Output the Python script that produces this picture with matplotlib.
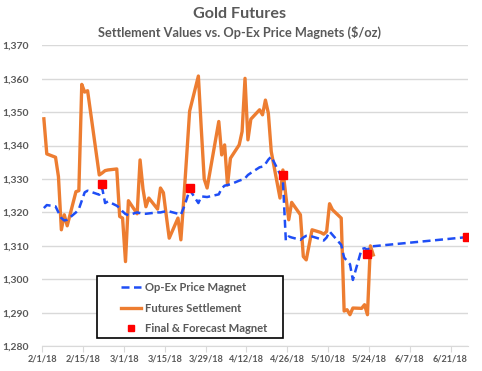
import matplotlib
matplotlib.use("Agg")
import matplotlib.pyplot as plt
import pandas as pd
from matplotlib.lines import Line2D
from matplotlib.patches import Rectangle
from matplotlib.ticker import FuncFormatter, MultipleLocator

plt.rcParams["font.family"] = ["Lato", "DejaVu Sans"]

# futures settlement, business days 2/1/18 .. 5/25/18
settle_dates = [
    "2018-02-01", "2018-02-02", "2018-02-05", "2018-02-06", "2018-02-07", "2018-02-08", "2018-02-09",
    "2018-02-12", "2018-02-13", "2018-02-14", "2018-02-15", "2018-02-16",
    "2018-02-20", "2018-02-21", "2018-02-22", "2018-02-23",
    "2018-02-26", "2018-02-27", "2018-02-28", "2018-03-01", "2018-03-02",
    "2018-03-05", "2018-03-06", "2018-03-07", "2018-03-08", "2018-03-09",
    "2018-03-12", "2018-03-13", "2018-03-14", "2018-03-15", "2018-03-16",
    "2018-03-19", "2018-03-20", "2018-03-21", "2018-03-22", "2018-03-23",
    "2018-03-26", "2018-03-27", "2018-03-28", "2018-03-29",
    "2018-04-02", "2018-04-03", "2018-04-04", "2018-04-05", "2018-04-06",
    "2018-04-09", "2018-04-10", "2018-04-11", "2018-04-12", "2018-04-13",
    "2018-04-16", "2018-04-17", "2018-04-18", "2018-04-19", "2018-04-20",
    "2018-04-23", "2018-04-24", "2018-04-25", "2018-04-26", "2018-04-27",
    "2018-04-30", "2018-05-01", "2018-05-02", "2018-05-03", "2018-05-04",
    "2018-05-07", "2018-05-08", "2018-05-09", "2018-05-10", "2018-05-11",
    "2018-05-14", "2018-05-15", "2018-05-16", "2018-05-17", "2018-05-18",
    "2018-05-21", "2018-05-22", "2018-05-23", "2018-05-24", "2018-05-25",
]
settle = [
    1348.0, 1337.5, 1336.5, 1330.7, 1314.8, 1319.3, 1316.0,
    1326.2, 1326.5, 1358.3, 1356.0, 1356.4,
    1331.2, 1331.8, 1332.5, 1332.7,
    1333.0, 1318.8, 1318.3, 1305.3, 1323.5,
    1319.6, 1335.7, 1327.0, 1321.7, 1324.3,
    1321.0, 1327.3, 1325.9, 1319.0, 1312.3,
    1318.3, 1311.8, 1324.0, 1337.0, 1350.3,
    1360.8, 1345.0, 1330.0, 1327.3,
    1347.2, 1337.2, 1340.2, 1328.2, 1336.2,
    1340.2, 1344.2, 1360.1, 1341.7, 1347.9,
    1350.7, 1349.2, 1353.6, 1349.7, 1338.2,
    1324.3, 1332.7, 1325.0, 1317.8, 1323.0,
    1319.3, 1306.8, 1305.8, 1310.3, 1314.8,
    1314.0, 1313.5, 1314.3, 1322.6, 1320.8,
    1318.3, 1290.5, 1290.9, 1289.4, 1291.4,
    1291.3, 1292.4, 1289.4, 1310.0, 1307.3,
]

# op-ex price magnet, business days to 5/24/18 then the forecast at 6/26/18
magnet_dates = settle_dates[:-1] + ["2018-06-26"]
magnet = [
    1321.3, 1322.2, 1321.8, 1320.0, 1318.3, 1317.6, 1317.8,
    1320.0, 1321.0, 1323.5, 1326.0, 1326.5,
    1325.3, 1327.3, 1322.8, 1323.3,
    1322.0, 1321.3, 1320.3, 1319.5, 1319.2,
    1320.0, 1319.8, 1319.6, 1319.6, 1319.7,
    1320.0, 1320.0, 1320.2, 1320.3, 1320.3,
    1319.6, 1319.3, 1321.5, 1324.0, 1326.8,
    1322.8, 1324.8, 1324.7, 1324.6,
    1325.4, 1327.2, 1328.0, 1328.2, 1328.4,
    1329.5, 1329.8, 1330.2, 1331.2, 1331.8,
    1333.5, 1333.7, 1334.5, 1335.8, 1336.7,
    1331.5, 1329.5, 1311.6, 1312.8, 1312.5,
    1311.8, 1312.5, 1313.0, 1313.0, 1312.8,
    1312.0, 1311.6, 1312.5, 1314.3, 1313.3,
    1310.3, 1306.5, 1305.5, 1304.5, 1299.8,
    1309.0, 1309.3, 1308.8, 1309.8,
    1312.6,
]

# final & forecast magnets
final_dates = ["2018-02-21", "2018-03-23", "2018-04-24", "2018-05-23", "2018-06-26"]
final_vals = [1328.5, 1327.3, 1331.2, 1307.6, 1312.6]

orange = "#ED7D31"
blue = "#1F4EF5"
red = "#FF0000"
grey_txt = "#595959"

# excel puts each point in the middle of its day
half_day = pd.Timedelta(hours=12)
xs = pd.to_datetime(settle_dates) + half_day
xm = pd.to_datetime(magnet_dates) + half_day
xf = pd.to_datetime(final_dates) + half_day

fig = plt.figure(figsize=(4.82, 3.71), dpi=100)
ax = fig.add_axes([0.088, 0.067, 0.883, 0.811])

ax.plot(xs, settle, color=orange, lw=2.4, solid_joinstyle="round", zorder=3)
ax.plot(xm, magnet, color=blue, lw=1.8, dashes=(3.2, 1.8), zorder=4)
ax.plot(xf, final_vals, ls="none", marker="s", ms=5.4, color=red, zorder=5)

ax.set_ylim(1280, 1370)
ax.yaxis.set_major_locator(MultipleLocator(10))
ax.yaxis.set_major_formatter(FuncFormatter(lambda v, p: "{:,.0f}".format(v)))
start = pd.Timestamp("2018-02-01")
ax.set_xlim(start, start + pd.Timedelta(days=146))
ticks = [start + pd.Timedelta(days=14 * i) for i in range(11)]
ax.set_xticks(ticks)
ax.set_xticklabels(["{}/{}/{}".format(t.month, t.day, t.strftime("%y")) for t in ticks])

ax.grid(axis="y", color="#d9d9d9", lw=1)
ax.set_axisbelow(True)
for s in ["top", "right", "left"]:
    ax.spines[s].set_visible(False)
ax.spines["bottom"].set_color("#d9d9d9")
ax.tick_params(axis="y", length=0, pad=10, labelsize=7.5, labelcolor=grey_txt)
ax.tick_params(axis="x", length=4, color="#d9d9d9", pad=2, labelsize=6.6, labelcolor=grey_txt)
for lab in ax.get_yticklabels() + ax.get_xticklabels():
    lab.set_fontweight("bold")

fig.text(0.498, 0.963, "Gold Futures", ha="center", va="center",
         fontsize=11.6, fontweight="bold", color=grey_txt)
fig.text(0.497, 0.913, "Settlement Values vs. Op-Ex Price Magnets ($/oz)", ha="center", va="center",
         fontsize=9.2, fontweight="bold", color=grey_txt)

# legend: box drawn by hand, entries placed inside it
fig.patches.append(Rectangle((0.2006, 0.0898), 0.387, 0.167, transform=fig.transFigure,
                             facecolor="white", edgecolor="black", lw=1.2, zorder=10))
handles = [
    Line2D([], [], color=blue, lw=1.8, dashes=(3.2, 1.8)),
    Line2D([], [], color=orange, lw=2.4),
    Line2D([], [], ls="none", marker="s", ms=4.5, color=red),
]
labels = ["Op-Ex Price Magnet", "Futures Settlement", "Final & Forecast Magnet"]
leg = fig.legend(handles, labels, loc="upper left", bbox_to_anchor=(0.251, 0.240),
                 frameon=False, prop={"size": 8.1, "weight": "bold"}, labelcolor=grey_txt,
                 handlelength=1.8, handletextpad=0.3, labelspacing=0.86,
                 borderpad=0, borderaxespad=0)
leg.set_zorder(11)

fig.savefig("out.png", dpi=100)
